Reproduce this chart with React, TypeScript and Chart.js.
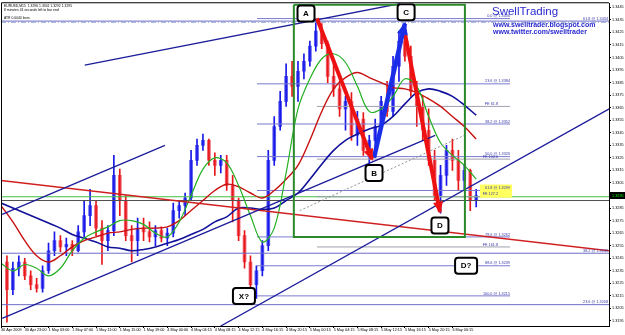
import React, { useEffect, useRef } from 'react';
import { Chart, registerables } from 'chart.js';

Chart.register(...registerables);

// ---------- axis data ----------
const timeLabels = ['30 Apr 2009', '30 Apr 23:00', '1 May 03:00', '1 May 07:00', '1 May 11:00', '1 May 15:00', '1 May 19:00', '4 May 00:00', '4 May 04:15', '4 May 08:15', '4 May 12:15', '4 May 16:15', '4 May 20:15', '5 May 00:15', '5 May 04:15', '5 May 08:15', '5 May 12:15', '5 May 16:15', '5 May 20:15', '6 May 00:15'];
const hoursPerLabel = 4;
const priceTicks = [1.3195, 1.3205, 1.3215, 1.3225, 1.3235, 1.3245, 1.3255, 1.3265, 1.3275, 1.3285, 1.3295, 1.3305, 1.3315, 1.3325, 1.3335, 1.3345, 1.3355, 1.3365, 1.3375, 1.3385, 1.3395, 1.3405, 1.3415, 1.3425, 1.3435, 1.3445];
const priceMin = 1.3191;
const priceMax = 1.34482;
const hourMax = 102.36;

// ---------- hourly candles (one per hour, first at hour 1) ----------
const opens = [1.3242, 1.3220, 1.3237, 1.3242, 1.3231, 1.3224, 1.3221, 1.3235, 1.3251, 1.3259,
  1.3254, 1.3256, 1.3251, 1.3266, 1.3279, 1.3287, 1.3269, 1.3259, 1.3267, 1.3311,
  1.3291, 1.3263, 1.3259, 1.3269, 1.3266, 1.3262, 1.3267, 1.3261, 1.3265, 1.3283,
  1.3287, 1.3293, 1.3323, 1.3335, 1.3339, 1.3323, 1.3319, 1.3323, 1.3303, 1.3291,
  1.3263, 1.3242, 1.3224, 1.3235, 1.3255, 1.3323, 1.3350, 1.3370, 1.3390, 1.3382,
  1.3394, 1.3402, 1.3414, 1.3426, 1.3416, 1.3390, 1.3380, 1.3364, 1.3370, 1.3343,
  1.3356, 1.3331, 1.3339, 1.3350, 1.3370, 1.3362, 1.3398, 1.3418, 1.3406, 1.3378,
  1.3366, 1.3347, 1.3323, 1.3295, 1.3311, 1.3331, 1.3323, 1.3307, 1.3315, 1.3291];
const highs = [1.3247, 1.3242, 1.3247, 1.3245, 1.3235, 1.3229, 1.3239, 1.3257, 1.3266, 1.3263,
  1.3261, 1.3259, 1.3271, 1.3291, 1.3300, 1.3291, 1.3275, 1.3271, 1.3327, 1.3316,
  1.3295, 1.3271, 1.3277, 1.3277, 1.3274, 1.3271, 1.3270, 1.3269, 1.3289, 1.3291,
  1.3297, 1.3331, 1.3340, 1.3344, 1.3340, 1.3329, 1.3327, 1.3327, 1.3311, 1.3293,
  1.3267, 1.3247, 1.3239, 1.3259, 1.3331, 1.3358, 1.3378, 1.3400, 1.3402, 1.3402,
  1.3408, 1.3418, 1.3436, 1.3432, 1.3418, 1.3400, 1.3386, 1.3374, 1.3377, 1.3362,
  1.3361, 1.3343, 1.3356, 1.3374, 1.3386, 1.3406, 1.3426, 1.3432, 1.3414, 1.3386,
  1.3374, 1.3364, 1.3331, 1.3319, 1.3335, 1.3340, 1.3331, 1.3319, 1.3316, 1.3300];
const lows = [1.3194, 1.3216, 1.3231, 1.3228, 1.3220, 1.3218, 1.3218, 1.3233, 1.3247, 1.3250,
  1.3247, 1.3247, 1.3250, 1.3262, 1.3271, 1.3263, 1.3240, 1.3251, 1.3263, 1.3279,
  1.3259, 1.3242, 1.3247, 1.3259, 1.3258, 1.3255, 1.3258, 1.3255, 1.3262, 1.3277,
  1.3279, 1.3291, 1.3319, 1.3331, 1.3319, 1.3311, 1.3313, 1.3299, 1.3274, 1.3259,
  1.3237, 1.3218, 1.3213, 1.3231, 1.3251, 1.3319, 1.3347, 1.3366, 1.3374, 1.3370,
  1.3388, 1.3398, 1.3410, 1.3412, 1.3385, 1.3374, 1.3358, 1.3347, 1.3339, 1.3335,
  1.3327, 1.3321, 1.3331, 1.3347, 1.3358, 1.3358, 1.3386, 1.3402, 1.3374, 1.3350,
  1.3339, 1.3319, 1.3291, 1.3281, 1.3303, 1.3315, 1.3299, 1.3300, 1.3283, 1.3286];
const closes = [1.3220, 1.3237, 1.3242, 1.3231, 1.3224, 1.3221, 1.3235, 1.3251, 1.3259, 1.3254,
  1.3256, 1.3251, 1.3266, 1.3279, 1.3287, 1.3269, 1.3259, 1.3267, 1.3311, 1.3291,
  1.3263, 1.3259, 1.3269, 1.3266, 1.3262, 1.3267, 1.3261, 1.3265, 1.3283, 1.3287,
  1.3293, 1.3323, 1.3335, 1.3339, 1.3323, 1.3319, 1.3323, 1.3303, 1.3291, 1.3263,
  1.3242, 1.3224, 1.3235, 1.3255, 1.3323, 1.3350, 1.3370, 1.3390, 1.3382, 1.3394,
  1.3402, 1.3414, 1.3426, 1.3416, 1.3390, 1.3380, 1.3364, 1.3370, 1.3343, 1.3356,
  1.3331, 1.3339, 1.3350, 1.3370, 1.3362, 1.3398, 1.3418, 1.3406, 1.3378, 1.3366,
  1.3347, 1.3323, 1.3295, 1.3311, 1.3331, 1.3323, 1.3307, 1.3315, 1.3291, 1.3295];

// ---------- moving averages, read every 2 hours from hour 0 ----------
const maStep = 2;
const maBlue = [1.3289, 1.3285, 1.3281, 1.3277, 1.3273, 1.3269, 1.3264, 1.3261, 1.3258, 1.3254, 1.3253, 1.3251, 1.3252, 1.3254, 1.3257, 1.3260, 1.3264, 1.3268, 1.3274, 1.3278, 1.3285, 1.3285, 1.3284, 1.3285, 1.3291, 1.3297, 1.3308, 1.3320, 1.3331, 1.3339, 1.3344, 1.3348, 1.3351, 1.3358, 1.3368, 1.3377, 1.3380, 1.3378, 1.3374, 1.3367, 1.3359];
const maRed = [1.3287, 1.3274, 1.3259, 1.3247, 1.3242, 1.3247, 1.3254, 1.3259, 1.3262, 1.3265, 1.3266, 1.3268, 1.3269, 1.3269, 1.3270, 1.3275, 1.3283, 1.3291, 1.3299, 1.3304, 1.3302, 1.3297, 1.3293, 1.3299, 1.3308, 1.3319, 1.3339, 1.3362, 1.3380, 1.3389, 1.3393, 1.3389, 1.3385, 1.3381, 1.3380, 1.3377, 1.3372, 1.3366, 1.3358, 1.3350, 1.3340];
const maGreen = [1.3241, 1.3235, 1.3240, 1.3237, 1.3231, 1.3237, 1.3251, 1.3261, 1.3266, 1.3270, 1.3275, 1.3275, 1.3272, 1.3265, 1.3262, 1.3274, 1.3295, 1.3316, 1.3325, 1.3321, 1.3303, 1.3279, 1.3258, 1.3269, 1.3313, 1.3364, 1.3388, 1.3404, 1.3408, 1.3401, 1.3382, 1.3362, 1.3364, 1.3374, 1.3388, 1.3382, 1.3358, 1.3337, 1.3327, 1.3319, 1.3308];

// ---------- drawn objects (hour, price) ----------
const trendUpper = [[14.1, 1.3399], [67.2, 1.3448]];
const channelTop = [[0.2, 1.3280], [27.6, 1.3335]];
const channelBottom = [[0.2, 1.3197], [73.1, 1.3343]];
const trendFromX = [[37.0, 1.3191], [102.4, 1.3364]];
const trendRed = [[0, 1.3307], [102.4, 1.3251]];
const dottedDiag = [[50.3, 1.3283], [78.5, 1.3344]];
const legAB = [[53.2, 1.3436], [62.46, 1.3324]];
const legBC = [[62.8, 1.3325], [68.0, 1.3432]];
const legCD = [[67.85, 1.3428], [73.9, 1.3282]];
const boxRect = [[49.3, 1.3447], [78.1, 1.3262]];
const pointNames = ['A', 'B', 'C', 'D', 'X?', 'D?'];
const pointPos = [[51.35, 1.3440], [62.8, 1.3313], [68.2, 1.3441], [73.9, 1.3271], [40.9, 1.3215], [78.3, 1.3239]];

const fibLevels = ['0.0', '23.6', '38.2', '50.0', '61.8', '78.6', '88.6', '100.0'];
const fibPrices = [1.3436, 1.3384, 1.3352, 1.3326, 1.3299, 1.3262, 1.3239, 1.3215];
const fibSpan = [43.1, 85.7];
const feLevels = ['61.8', '100.0', '127.2', '161.8'];
const fePrices = [1.3366, 1.3324, 1.3294, 1.3254];
const feSpan = [53.2, 85.7];
const wideLevels = ['61.8', '38.2', '23.6'];
const widePrices = [1.3434, 1.3249, 1.3208];
const dashDotPrice = 1.3433;
const askPrice = 1.3294;
const bidPrice = 1.3291;
const bidLabel = '1.3295';

const FONT = '"Liberation Sans", Arial, sans-serif';

function seg(pts: number[][], color: string, width: number, order: number, dash?: number[]) {
  return {
    type: 'line' as const,
    data: pts.map(([x, y]) => ({ x, y })),
    borderColor: color,
    borderWidth: width,
    borderDash: dash || [],
    pointRadius: 0,
    fill: false,
    tension: 0,
    order,
  };
}

function maLine(vals: number[], color: string, width: number, order: number) {
  return {
    type: 'line' as const,
    data: vals.map((v, i) => ({ x: i * maStep, y: v })),
    borderColor: color,
    borderWidth: width,
    pointRadius: 0,
    fill: false,
    tension: 0.35,
    order,
  };
}

function arrowHead(ctx: CanvasRenderingContext2D, x1: number, y1: number, x2: number, y2: number, color: string, len: number, half: number) {
  const a = Math.atan2(y2 - y1, x2 - x1);
  ctx.fillStyle = color;
  ctx.beginPath();
  ctx.moveTo(x2 + Math.cos(a) * 2, y2 + Math.sin(a) * 2);
  ctx.lineTo(x2 - Math.cos(a) * len + Math.cos(a + Math.PI / 2) * half, y2 - Math.sin(a) * len + Math.sin(a + Math.PI / 2) * half);
  ctx.lineTo(x2 - Math.cos(a) * len - Math.cos(a + Math.PI / 2) * half, y2 - Math.sin(a) * len - Math.sin(a + Math.PI / 2) * half);
  ctx.closePath();
  ctx.fill();
}

function roundBox(ctx: CanvasRenderingContext2D, cx: number, cy: number, w: number, h: number, r: number) {
  const x = cx - w / 2, y = cy - h / 2;
  ctx.beginPath();
  ctx.moveTo(x + r, y);
  ctx.lineTo(x + w - r, y);
  ctx.quadraticCurveTo(x + w, y, x + w, y + r);
  ctx.lineTo(x + w, y + h - r);
  ctx.quadraticCurveTo(x + w, y + h, x + w - r, y + h);
  ctx.lineTo(x + r, y + h);
  ctx.quadraticCurveTo(x, y + h, x, y + h - r);
  ctx.lineTo(x, y + r);
  ctx.quadraticCurveTo(x, y, x + r, y);
  ctx.closePath();
}

const overlay = {
  id: 'overlay',
  afterDatasetsDraw(chart: any) {
    const { ctx, chartArea: ca } = chart;
    const xs = chart.scales.x, ys = chart.scales.y;
    const X = (h: number) => xs.getPixelForValue(h);
    const Y = (p: number) => ys.getPixelForValue(p);
    ctx.save();
    ctx.beginPath();
    ctx.rect(ca.left, ca.top, ca.right - ca.left, ca.bottom - ca.top);
    ctx.clip();

    // level labels
    ctx.font = `3.8px ${FONT}`;
    ctx.textAlign = 'right';
    ctx.textBaseline = 'bottom';
    fibLevels.forEach((lvl, i) => {
      const tx = X(fibSpan[1]);
      const ty = Y(fibPrices[i]);
      const txt = `${lvl} @ ${fibPrices[i].toFixed(4)}`;
      if (lvl === '61.8') {
        ctx.fillStyle = '#ffff60';
        ctx.fillRect(tx - 30, ty - 6, 32, 7);
      }
      ctx.fillStyle = '#3a3aa8';
      ctx.fillText(txt, tx, ty - 0.5);
    });
    feLevels.forEach((lvl, i) => {
      const tx = X(feSpan[1]);
      const ty = Y(fePrices[i]);
      if (lvl === '127.2') {
        ctx.fillStyle = '#ffff60';
        ctx.fillRect(tx - 30, ty - 6, 32, 7);
      }
      ctx.fillStyle = '#3a3aa8';
      ctx.fillText(`FE ${lvl}`, tx - 12, ty - 0.5);
    });
    wideLevels.forEach((lvl, i) => {
      ctx.fillStyle = '#3a3aa8';
      ctx.fillText(`${lvl} @ ${widePrices[i].toFixed(4)}`, ca.right - 1, Y(widePrices[i]) - 0.5);
    });

    // arrow heads
    arrowHead(ctx, X(legAB[0][0]), Y(legAB[0][1]), X(legAB[1][0]), Y(legAB[1][1]), '#ee1111', 10, 5);
    arrowHead(ctx, X(legBC[0][0]), Y(legBC[0][1]), X(legBC[1][0]), Y(legBC[1][1]), '#1a2ee8', 11, 5.5);
    arrowHead(ctx, X(legCD[0][0]), Y(legCD[0][1]), X(legCD[1][0]), Y(legCD[1][1]), '#ee1111', 10, 5);

    // point name boxes
    pointNames.forEach((name, i) => {
      const cx = X(pointPos[i][0]);
      const cy = Y(pointPos[i][1]);
      const w = name.length > 1 ? 22 : 17;
      roundBox(ctx, cx, cy, w, 16, 3);
      ctx.fillStyle = '#ffffff';
      ctx.fill();
      ctx.lineWidth = 2;
      ctx.strokeStyle = '#000000';
      ctx.stroke();
      ctx.fillStyle = '#000';
      ctx.font = `bold 8px ${FONT}`;
      ctx.textAlign = 'center';
      ctx.textBaseline = 'middle';
      ctx.fillText(name, cx, cy + 0.5);
    });
    ctx.restore();
  },
  afterDraw(chart: any) {
    const { ctx, chartArea: ca } = chart;
    const ys = chart.scales.y;
    ctx.save();
    // frame
    ctx.strokeStyle = '#000';
    ctx.lineWidth = 1;
    ctx.beginPath();
    ctx.moveTo(ca.left + 0.5, ca.bottom);
    ctx.lineTo(ca.left + 0.5, ca.top - 0.5);
    ctx.lineTo(ca.right, ca.top - 0.5);
    ctx.stroke();

    // header
    ctx.fillStyle = '#000';
    ctx.font = `3.4px ${FONT}`;
    ctx.textAlign = 'left';
    ctx.textBaseline = 'alphabetic';
    ctx.fillText('EURUSD,M15  1.3296 1.3301 1.3292 1.3295', 4, 6.5);
    ctx.fillText('8 minutes 41 seconds left to bar end', 4, 10.5);
    ctx.fillText('ATR 0.0040 lines', 4, 19);

    // branding
    ctx.fillStyle = '#2a2ad0';
    ctx.font = `11.5px ${FONT}`;
    ctx.fillText('SwellTrading', 492, 14.5);
    ctx.font = `bold 7px ${FONT}`;
    ctx.fillText('www.swelltrader.blogspot.com', 493, 26.5);
    ctx.fillText('www.twitter.com/swelltrader', 493, 34);

    // bid price box on the axis
    const by = ys.getPixelForValue(1.3295);
    ctx.fillStyle = '#000';
    ctx.fillRect(ca.right + 1, by - 3.5, 15, 7);
    ctx.fillStyle = '#00ff00';
    ctx.font = `3.8px ${FONT}`;
    ctx.textBaseline = 'middle';
    ctx.fillText(bidLabel, ca.right + 3, by + 0.3);
    ctx.restore();
  },
};

export default function App() {
  const ref = useRef<HTMLCanvasElement>(null);
  useEffect(() => {
    const canvas = ref.current;
    if (!canvas) return;

    const upColor = '#1818e8';
    const downColor = '#e81818';
    const wickUp: any[] = [], wickDown: any[] = [], bodyUp: any[] = [], bodyDown: any[] = [];
    opens.forEach((o, i) => {
      const c = closes[i];
      const h = i + 1;
      const isUp = c >= o;
      const lo = Math.min(o, c), hi = Math.max(o, c);
      (isUp ? wickUp : wickDown).push({ x: h, y: [lows[i], highs[i]] });
      (isUp ? bodyUp : bodyDown).push({ x: h, y: [lo, hi === lo ? hi + 0.00004 : hi] });
    });

    const bar = (data: any[], color: string, thick: number, order: number) => ({
      type: 'bar' as const,
      data,
      backgroundColor: color,
      borderWidth: 0,
      barThickness: thick,
      grouped: false,
      order,
    });

    const hLine = (p: number, span: number[], color: string, order: number, dash?: number[]) =>
      seg([[span[0], p], [span[1], p]], color, 1, order, dash);

    const datasets: any[] = [
      seg(legAB, '#ee1111', 4, 0),
      seg(legBC, '#1a2ee8', 4.5, 0),
      seg(legCD, '#ee1111', 4, 0),
      seg([[boxRect[0][0], boxRect[0][1]], [boxRect[1][0], boxRect[0][1]], [boxRect[1][0], boxRect[1][1]], [boxRect[0][0], boxRect[1][1]], [boxRect[0][0], boxRect[0][1]]], '#2a8a2a', 2, 1),
      seg(trendUpper, '#1c1c9c', 1.3, 3),
      seg(channelTop, '#1c1c9c', 1.3, 3),
      seg(channelBottom, '#1c1c9c', 1.3, 3),
      seg(trendFromX, '#1c1c9c', 1.3, 3),
      seg(trendRed, '#d02020', 1.5, 3),
      seg(dottedDiag, '#909090', 1, 3, [2, 2]),
      maLine(maGreen, '#22b022', 1.2, 4),
      maLine(maRed, '#c81010', 1.4, 4),
      maLine(maBlue, '#10109a', 1.6, 4),
      ...fibPrices.map((p) => hLine(p, fibSpan, '#7a7ad0', 6)),
      ...fePrices.map((p) => hLine(p, feSpan, '#a0a0b0', 6)),
      ...widePrices.map((p) => hLine(p, [0, hourMax], '#6c6cc8', 6)),
      hLine(dashDotPrice, [0, hourMax], '#9ab0d0', 6, [5, 2, 1, 2]),
      hLine(askPrice, [0, hourMax], '#40c040', 6),
      hLine(bidPrice, [0, hourMax], '#505050', 6),
      bar(wickUp, upColor, 1, 8),
      bar(wickDown, downColor, 1, 8),
      bar(bodyUp, '#5a5af0', 3, 9),
      bar(bodyDown, '#f06070', 3, 9),
    ];

    const chart = new Chart(canvas, {
      type: 'bar',
      data: { datasets },
      options: {
        animation: false,
        responsive: false,
        devicePixelRatio: 1,
        events: [],
        layout: { padding: { left: 1, top: 2, right: 0, bottom: 0 } },
        plugins: { legend: { display: false }, tooltip: { enabled: false } },
        scales: {
          x: {
            type: 'linear',
            min: 0,
            max: hourMax,
            offset: false,
            afterBuildTicks: (s: any) => { s.ticks = timeLabels.map((_, i) => ({ value: i * hoursPerLabel })); },
            afterFit: (s: any) => { s.height = 9; },
            ticks: {
              autoSkip: false,
              maxRotation: 0,
              minRotation: 0,
              align: 'start',
              padding: 0,
              color: '#000',
              font: { size: 3.8, family: FONT },
              callback: (_v: any, i: number) => timeLabels[i],
            },
            grid: { drawOnChartArea: false, tickLength: 2, color: '#000', offset: false },
            border: { color: '#000' },
          },
          y: {
            type: 'linear',
            position: 'right',
            min: priceMin,
            max: priceMax,
            beginAtZero: false,
            afterBuildTicks: (s: any) => { s.ticks = priceTicks.map((v) => ({ value: v })); },
            afterFit: (s: any) => { s.width = 16; },
            ticks: {
              padding: 1,
              color: '#000',
              font: { size: 3.8, family: FONT },
              callback: (v: any) => Number(v).toFixed(4),
            },
            grid: { drawOnChartArea: false, tickLength: 2, color: '#000' },
            border: { color: '#000' },
          },
        },
      } as any,
      plugins: [overlay],
    });
    return () => chart.destroy();
  }, []);

  return (
    <div style={{ position: 'fixed', left: 0, top: 0, width: 625, height: 335, background: '#fff' }}>
      <canvas ref={ref} width={625} height={335} style={{ display: 'block' }} />
    </div>
  );
}
